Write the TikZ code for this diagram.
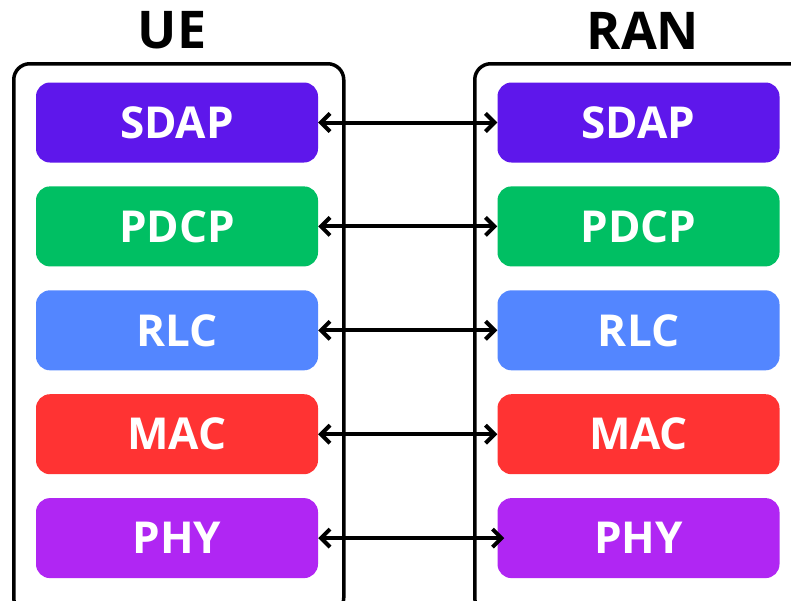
\documentclass[tikz,border=0pt]{standalone}
\usepackage{fontspec}
\setmainfont{Open Sans}
\usepackage{xcolor}
\usetikzlibrary{arrows.meta, positioning}

\definecolor{sdapcol}{HTML}{5E17EB}
\definecolor{pdcpcol}{HTML}{00BF63}
\definecolor{rlccol}{HTML}{5386FF}
\definecolor{maccol}{HTML}{FF3333}
\definecolor{phycol}{HTML}{B026F3}

\begin{document}
\begin{tikzpicture}[
    x=1pt, y=-1pt,
    node distance=23.5pt,
    stack/.style={rectangle, draw, line width=3.5pt, rounded corners=16pt, anchor=north west, minimum height=550pt},
    layer/.style={rectangle, rounded corners=14pt, minimum width=282pt, minimum height=80pt, inner sep=0pt, text=white, font=\fontsize{44}{44}\selectfont\bfseries},
    title/.style={font=\fontsize{52}{52}\selectfont\bfseries},
    link/.style={{Straight Barb[length=9pt,width=18pt]}-{Straight Barb[length=9pt,width=18pt]}, line width=4pt}
]
\useasboundingbox[fill=white] (0,0) rectangle (791,600);

% Stacks
\node[stack, minimum width=330pt] (ue) at (12,62) {};
\node[stack, minimum width=340pt] (ran) at (473,62) {};
\node[title] (uetitle) at (172,30.5) {UE};
\node[title] (rantitle) at (643,30.5) {RAN};

% UE side
\node[layer, fill=sdapcol] (sdapUE) at (177,122.5) {SDAP};
\node[layer, fill=pdcpcol, below=of sdapUE] (pdcpUE) {PDCP};
\node[layer, fill=rlccol, below=of pdcpUE] (rlcUE) {RLC};
\node[layer, fill=maccol, below=of rlcUE] (macUE) {MAC};
\node[layer, fill=phycol, below=of macUE] (phyUE) {PHY};

% RAN side
\node[layer, fill=sdapcol] (sdapRAN) at (638.5,122.5) {SDAP};
\node[layer, fill=pdcpcol, below=of sdapRAN] (pdcpRAN) {PDCP};
\node[layer, fill=rlccol, below=of pdcpRAN] (rlcRAN) {RLC};
\node[layer, fill=maccol, below=of rlcRAN] (macRAN) {MAC};
\node[layer, fill=phycol, below=of macRAN] (phyRAN) {PHY};

% Peer links
\draw[link] (sdapUE.east) -- (sdapRAN.west);
\draw[link] (pdcpUE.east) -- (pdcpRAN.west);
\draw[link] (rlcUE.east) -- (rlcRAN.west);
\draw[link] (macUE.east) -- (macRAN.west);
\draw[link, shorten >=-7pt] (phyUE.east) -- (phyRAN.west);

\end{tikzpicture}
\end{document}
